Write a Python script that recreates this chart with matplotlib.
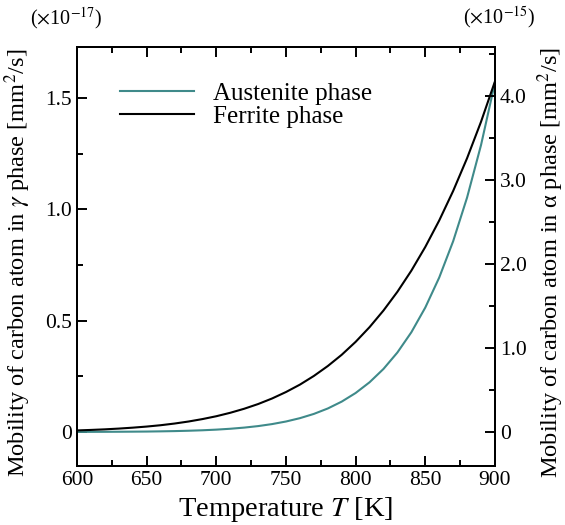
import matplotlib
matplotlib.use("Agg")
import matplotlib.pyplot as plt
from matplotlib.ticker import MultipleLocator, FuncFormatter

plt.rcParams['font.family'] = ['Liberation Serif', 'DejaVu Serif']
plt.rcParams['mathtext.fontset'] = 'stix'

# temperature [K]
temperature = [600, 610, 620, 630, 640, 650, 660, 670, 680, 690,
               700, 710, 720, 730, 740, 750, 760, 770, 780, 790,
               800, 810, 820, 830, 840, 850, 860, 870, 880, 890, 900]

# austenite (gamma) mobility, x1e-17 mm^2/s
austenite = [0.0002, 0.0004, 0.0006, 0.0009, 0.0013, 0.0018, 0.0027, 0.0038, 0.0054, 0.0075,
             0.0104, 0.0143, 0.0195, 0.0263, 0.0353, 0.0469, 0.0619, 0.0810, 0.1054, 0.1363,
             0.1750, 0.2232, 0.2832, 0.3572, 0.4480, 0.5590, 0.6939, 0.8570, 1.0535, 1.2889, 1.57]

# ferrite (alpha) mobility, x1e-15 mm^2/s
ferrite = [0.018, 0.024, 0.031, 0.040, 0.051, 0.064, 0.080, 0.100, 0.124, 0.153,
           0.187, 0.228, 0.276, 0.332, 0.398, 0.475, 0.563, 0.666, 0.784, 0.918,
           1.072, 1.247, 1.445, 1.668, 1.919, 2.201, 2.516, 2.867, 3.257, 3.690, 4.17]

teal = '#3f8a8a'

fig = plt.figure(figsize=(5.65, 5.25), dpi=100)
ax = fig.add_axes([0.1363, 0.1124, 0.7397, 0.7981])
ax2 = ax.twinx()

l1, = ax.plot(temperature, austenite, color=teal, lw=1.5, label='Austenite phase')
l2, = ax2.plot(temperature, ferrite, color='black', lw=1.5, label='Ferrite phase')

ax.set_xlim(600, 900)
ax.set_ylim(-0.153, 1.73)
ax2.set_ylim(-0.405, 4.58)

ax.xaxis.set_major_locator(MultipleLocator(50))
ax.xaxis.set_minor_locator(MultipleLocator(25))
ax.yaxis.set_major_locator(MultipleLocator(0.5))
ax.yaxis.set_minor_locator(MultipleLocator(0.25))
ax2.yaxis.set_major_locator(MultipleLocator(1.0))
ax2.yaxis.set_minor_locator(MultipleLocator(0.5))

def fmt(v, pos):
    if abs(v) < 1e-9:
        return '0'
    return '%.1f' % v

ax.yaxis.set_major_formatter(FuncFormatter(fmt))
ax2.yaxis.set_major_formatter(FuncFormatter(fmt))

for a in (ax, ax2):
    for s in a.spines.values():
        s.set_linewidth(1.4)
ax.tick_params(which='both', direction='in', top=True, right=False, width=1.4, labelsize=15.5)
ax.tick_params(which='major', length=7.5)
ax.tick_params(which='minor', length=4)
ax2.tick_params(which='both', direction='in', width=1.4, labelsize=15.5)
ax2.tick_params(which='major', length=7.5)
ax2.tick_params(which='minor', length=4)

ax.set_xlabel('Temperature $T$ [K]', fontsize=20.5)
ax.set_ylabel(r'Mobility of carbon atom in $\gamma$ phase [mm$^2$/s]', fontsize=17.6)
ax2.set_ylabel(r'Mobility of carbon atom in α phase [mm$^2$/s]', fontsize=17.6)
ax.yaxis.set_label_coords(-0.105, 0.486)
ax2.yaxis.set_label_coords(1.097, 0.486)

ax.text(-0.026, 1.069, r'($\times$10$^{-17}$)', transform=ax.transAxes,
        ha='center', va='center', fontsize=14.5)
ax2.text(1.01, 1.069, r'($\times$10$^{-15}$)', transform=ax.transAxes,
         ha='center', va='center', fontsize=14.5)

ax2.legend([l1, l2], ['Austenite phase', 'Ferrite phase'], loc='upper left',
           bbox_to_anchor=(0.103, 0.915), frameon=False, fontsize=18,
           handlelength=2.95, handletextpad=0.75, labelspacing=0.0,
           borderaxespad=0, borderpad=0)

fig.savefig('out.png', dpi=100)
